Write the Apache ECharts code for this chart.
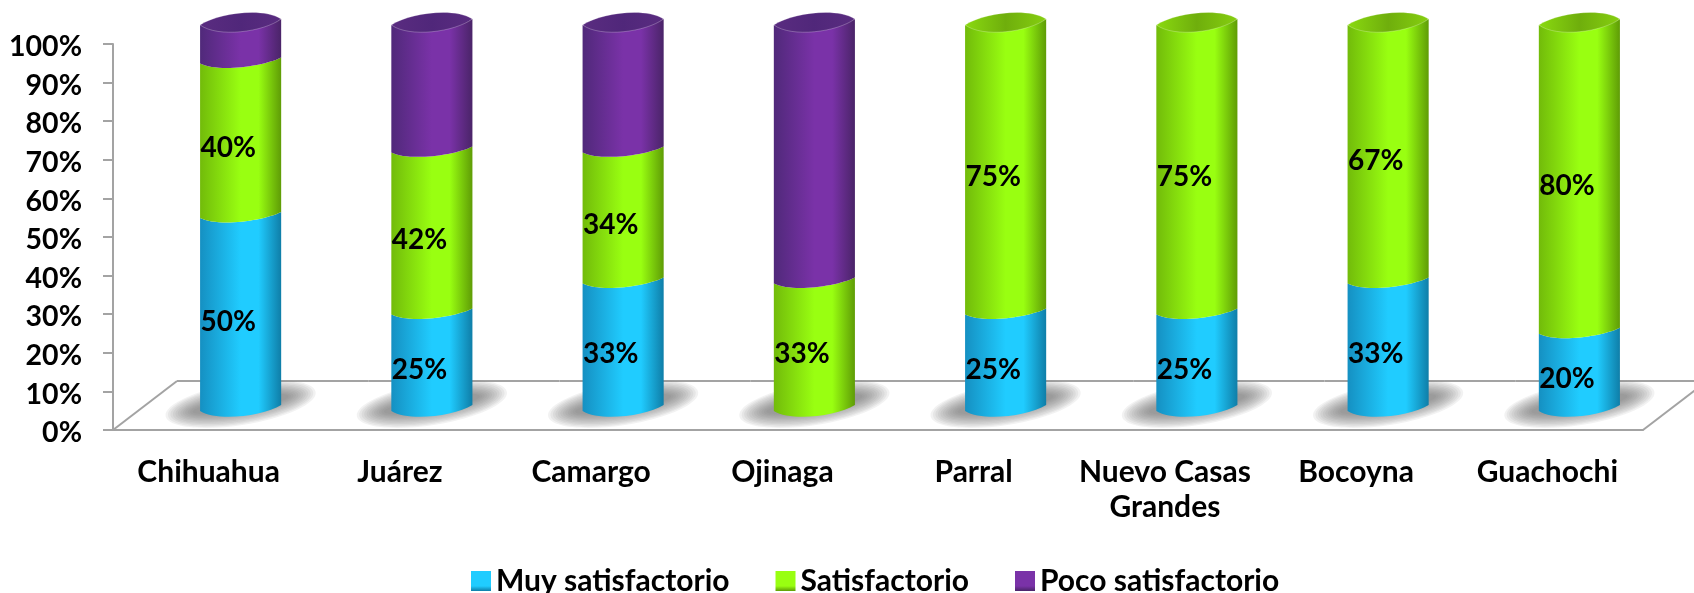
<!DOCTYPE html>
<html>
<head>
<meta charset="utf-8">
<title>Satisfacción por municipio</title>
<style>
html,body{margin:0;padding:0;background:#fff;}
#container{width:1694px;height:593px;}
</style>
<script src="https://cdn.jsdelivr.net/npm/echarts@6/dist/echarts.min.js"></script>
</head>
<body>
<div id="container"></div>
<script>
var categories = ['Chihuahua','Juárez','Camargo','Ojinaga','Parral','Nuevo Casas\nGrandes','Bocoyna','Guachochi'];
var muySatisfactorio = [50,25,33,0,25,25,33,20];
var satisfactorio = [40,42,34,33,75,75,67,80];
var pocoSatisfactorio = [10,33,33,67,0,0,0,0];
var stacks = [muySatisfactorio, satisfactorio, pocoSatisfactorio];
var seriesNames = ['Muy satisfactorio','Satisfactorio','Poco satisfactorio'];
// sin etiqueta en la parte morada
var showLabel = [true,true,false];

// colores del cilindro: borde izq, centro, borde der, tapa (3)
var palette = [
	['#1590c2','#20ccff','#0f7ea8','#20ccff','#18a8d8','#20ccff'],
	['#72bb0a','#99ff11','#5f9c06','#8ada10','#6fae0c','#86cf10'],
	['#50297a','#7a32a8','#4a2468','#5a2c80','#50277a','#5a2c80']
];
var font = 'Lato, "Open Sans", sans-serif';

var dom = document.getElementById("container");
var myChart = echarts.init(dom);

// desplazamiento de la perspectiva respecto al eje
var depthX = 32, edgeLeft = 19, edgeRight = 25;

function cylGradient(c){
	return new echarts.graphic.LinearGradient(0,0,1,0,[
		{offset:0,color:c[0]},
		{offset:0.5,color:c[1]},
		{offset:0.72,color:c[1]},
		{offset:1,color:c[2]}
	]);
}
function capGradient(c){
	return new echarts.graphic.LinearGradient(0,0,1,0,[
		{offset:0,color:c[3]},
		{offset:0.5,color:c[4]},
		{offset:1,color:c[5]}
	]);
}
function swatch(c){
	return new echarts.graphic.LinearGradient(0,0,0,1,[
		{offset:0,color:c[1]},
		{offset:0.75,color:c[1]},
		{offset:1,color:c[2]}
	]);
}
function sumUntil(s, i){
	var t = 0;
	for(var k=0;k<s;k++){ t += stacks[k][i]; }
	return t;
}
function lowerArc(x0,x1,yL,yR,a){
	return 'C'+(x0+18)+' '+(yL+a)+' '+(x1-18)+' '+(yR+a)+' '+x1+' '+yR;
}
function renderSegment(s){
	return function(params, api){
		var i = api.value(0);
		var val = api.value(1);
		if(!val){ return {type:'group',children:[]}; }
		var from = sumUntil(s,i), to = from+val;
		var pFrom = api.coord([i,from]), pTo = api.coord([i,to]);
		var half = api.size([1,0])[0]*0.212;
		var cx = pFrom[0]+depthX;
		var x0 = cx-half, x1 = cx+half;
		var bL = pFrom[1]-edgeLeft, bR = pFrom[1]-edgeRight;
		var tL = pTo[1]-edgeLeft, tR = pTo[1]-edgeRight;
		var a = from===0 ? 11 : 9;
		var d = 'M'+x0+' '+tL+'L'+x0+' '+bL+lowerArc(x0,x1,bL,bR,a)+'L'+x1+' '+tR
			+'C'+(x1-18)+' '+(tR+9)+' '+(x0+18)+' '+(tL+9)+' '+x0+' '+tL+'Z';
		var children = [{
			type:'path',
			shape:{pathData:d},
			style:{fill:cylGradient(palette[s])}
		}];
		if(to>=100){
			var cap = 'M'+x0+' '+tL+lowerArc(x0,x1,tL,tR,13)
				+'C'+(x1-18)+' '+(tR-12)+' '+(x0+18)+' '+(tL-12)+' '+x0+' '+tL+'Z';
			children.push({
				type:'path',
				shape:{pathData:cap},
				style:{fill:capGradient(palette[s]),stroke:'rgba(255,255,255,0.25)',lineWidth:1}
			});
		}
		if(showLabel[s]){
			var mid = api.coord([i,from+val/2]);
			children.push({
				type:'text',
				z2:100,
				style:{x:mid[0]+19.5,y:mid[1]-12,text:val+'%',fill:'#000',
					font:'bold 28px '+font,textAlign:'center',textVerticalAlign:'middle'}
			});
		}
		return {type:'group',children:children};
	};
}
// piso en perspectiva y sombras
function renderFloor(params, api){
	var i = api.value(0);
	var p = api.coord([i,0]);
	var back = api.coord([i,12.7]);
	var half = api.size([1,0])[0]/2;
	var lineStyle = {stroke:'#a3a3a3',lineWidth:2,fill:null};
	var children = [{
		type:'line',
		shape:{x1:p[0]-half+depthX*2,y1:back[1],x2:p[0]+half+depthX*2,y2:back[1]},
		style:lineStyle
	}];
	// sombra difusa: elipses superpuestas de poca opacidad
	for(var k=0;k<12;k++){
		children.push({
			type:'ellipse',
			rotation:0.16,
			originX:p[0]+depthX,
			originY:p[1]-26,
			shape:{cx:p[0]+depthX,cy:p[1]-26,rx:76-k*2.5,ry:21-k*1.3},
			style:{fill:'rgba(110,110,110,0.09)'}
		});
	}
	if(i===0){
		children.push({type:'line',shape:{x1:p[0]-half,y1:p[1],x2:p[0]-half+depthX*2,y2:back[1]},style:lineStyle});
	}
	if(i===categories.length-1){
		children.push({type:'line',shape:{x1:p[0]+half,y1:p[1],x2:p[0]+half+depthX*2,y2:back[1]},style:lineStyle});
	}
	return {type:'group',children:children};
}

var option = {
	animation:false,
	backgroundColor:'#fff',
	grid:{left:113,right:51,top:44,bottom:163,containLabel:false},
	legend:{
		left:466,
		top:561,
		icon:'rect',
		itemWidth:20,
		itemHeight:20,
		itemGap:46,
		textStyle:{color:'#000',fontFamily:font,fontWeight:'bold',fontSize:30},
		data:seriesNames.map(function(n,k){
			return {name:n,itemStyle:{color:swatch(palette[k])}};
		})
	},
	xAxis:{
		type:'category',
		data:categories,
		axisLine:{lineStyle:{color:'#a3a3a3',width:2}},
		axisTick:{alignWithLabel:false,length:10,lineStyle:{color:'#8c8c8c',width:2}},
		axisLabel:{color:'#000',fontFamily:font,fontWeight:'bold',fontSize:30,lineHeight:35,margin:25,interval:0}
	},
	yAxis:{
		type:'value',
		min:0,
		max:100,
		interval:10,
		axisLine:{show:true,lineStyle:{color:'#a3a3a3',width:2}},
		axisTick:{show:true,length:10,lineStyle:{color:'#a3a3a3',width:2}},
		splitLine:{show:false},
		axisLabel:{
			margin:31,
			formatter:function(v){ return '{t|'+v+'%}'; },
			rich:{t:{color:'#000',fontFamily:font,fontWeight:'bold',fontSize:28.5,padding:[6,0,0,0]}}
		}
	},
	series:[{
		name:'piso',
		type:'custom',
		z:1,
		renderItem:renderFloor,
		silent:true,
		encode:{x:0,y:1},
		data:categories.map(function(c,i){return [i,0];})
	}].concat(stacks.map(function(values,s){
		return {
			name:seriesNames[s],
			type:'custom',
			z:2+s,
			renderItem:renderSegment(s),
			encode:{x:0,y:1},
			itemStyle:{color:palette[s][1]},
			data:values.map(function(v,i){return [i,v];})
		};
	}))
};
myChart.setOption(option);
</script>
</body>
</html>
